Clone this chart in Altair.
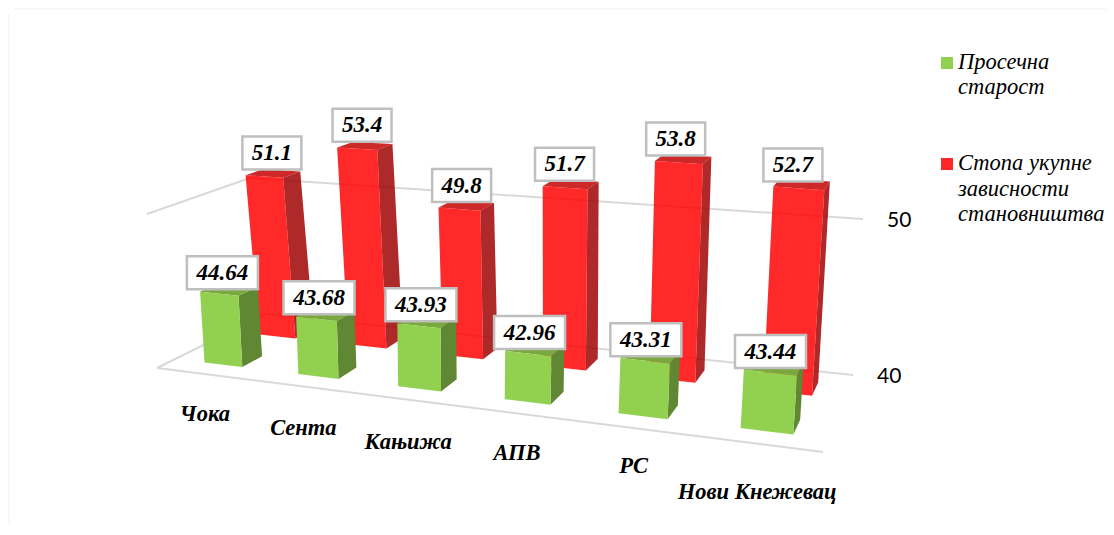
import altair as alt

# ---- chart values ----
categories = ["Чока", "Сента", "Кањижа", "АПВ", "РС", "Нови Кнежевац"]
avg_age = [44.64, 43.68, 43.93, 42.96, 43.31, 43.44]
dependency = [51.1, 53.4, 49.8, 51.7, 53.8, 52.7]
axis_ticks = [40, 50]
legend_green = ["Просечна", "старост"]
legend_red = ["Стопа укупне", "зависности", "становништва"]

W, H = 1098, 518
M = 8  # page margin

# ---- 3D projection of the reference's view (floor = 40, top plane = 50) ----
FLOOR = [(157, 368), (823, 452), (853, 375), (266, 314)]
TOP = [(147, 214), (835, 277), (863, 219), (250, 178)]
# small hand nudges for the category labels, which the reference places unevenly
CAT_NUDGE = [(5, 1), (7, 1), (9, 1), (8, -3), (7, -7), (4, 2)]


def homography(q):
    (x0, y0), (x1, y1), (x2, y2), (x3, y3) = q
    dx1, dx2, sx = x1 - x2, x3 - x2, x0 - x1 + x2 - x3
    dy1, dy2, sy = y1 - y2, y3 - y2, y0 - y1 + y2 - y3
    den = dx1 * dy2 - dx2 * dy1
    g = (sx * dy2 - dx2 * sy) / den
    h = (dx1 * sy - sx * dy1) / den
    a, b, c = x1 - x0 + g * x1, x3 - x0 + h * x3, x0
    d, e, f = y1 - y0 + g * y1, y3 - y0 + h * y3, y0

    def apply(u, v):
        w = g * u + h * v + 1
        return (a * u + b * v + c) / w, (d * u + e * v + f) / w

    return apply


HF = homography(FLOOR)
RISE = [(t[0] - f[0], t[1] - f[1]) for f, t in zip(FLOOR, TOP)]


def P(u, d, v):
    fx, fy = HF(u, d)
    t = (v - 40) / 10
    rx = (1 - d) * ((1 - u) * RISE[0][0] + u * RISE[1][0]) + d * ((1 - u) * RISE[3][0] + u * RISE[2][0])
    ry = (1 - d) * ((1 - u) * RISE[0][1] + u * RISE[1][1]) + d * ((1 - u) * RISE[3][1] + u * RISE[2][1])
    return fx + t * rx - M, fy + t * ry - M


def poly(points, fill, op):
    ring = [list(p) for p in points] + [list(points[0])]
    return {
        "type": "Feature",
        "properties": {"fill": fill, "op": op},
        "geometry": {"type": "Polygon", "coordinates": [ring]},
    }


N = len(categories)
BAR0, BAR1 = 0.295, 0.705
STYLES = {
    "green": dict(d0=0.150, d1=0.330, du=0.005, kx=(3.5, -3.5), half=35.5, dy=-21,
                  front="#92D050", side="#5F8734", top="#78A83E", op=1.0),
    "red": dict(d0=0.650, d1=0.840, du=0.006, kx=(9.0, -16.0), half=29.5, dy=-23.5,
                front="#FF0000", side="#9E0000", top="#C40000", op=0.84),
}


def bar_faces(i, v, s):
    u0, u1 = (i + BAR0) / N + s["du"], (i + BAR1) / N + s["du"]
    d0, d1 = s["d0"], s["d1"]
    return [
        poly([P(u1, d0, 40), P(u1, d1, 40), P(u1, d1, v), P(u1, d0, v)], s["side"], s["op"]),
        poly([P(u0, d0, v), P(u1, d0, v), P(u1, d1, v), P(u0, d1, v)], s["top"], s["op"]),
        poly([P(u0, d0, 40), P(u1, d0, 40), P(u1, d0, v), P(u0, d0, v)], s["front"], s["op"]),
    ]


features = []
for i, v in enumerate(dependency):
    features += bar_faces(i, v, STYLES["red"])
for i, v in enumerate(avg_age):
    features += bar_faces(i, v, STYLES["green"])

# label boxes sit above the front-top edge of each bar
boxes = []
for series, vals, fmt in (("red", dependency, "{:.1f}"), ("green", avg_age, "{:.2f}")):
    s = STYLES[series]
    for i, v in enumerate(vals):
        u = (i + 0.5) / N + s["du"]
        x, y = P(u, s["d0"], v)
        x += s["kx"][0] + s["kx"][1] * u
        y += s["dy"]
        half = s["half"]
        boxes.append({"x": x, "y": y, "x0": x - half, "x1": x + half,
                      "y0": y - 16.5, "y1": y + 16.5, "t": fmt.format(v)})

grid = []
for a, b in [
    (P(0, 0, 50), P(0, 1, 50)), (P(0, 1, 50), P(1, 1, 50)),
    (P(0, 0, 40), P(0, 1, 40)), (P(0, 1, 40), P(1, 1, 40)),
    (P(0, 0, 40), P(1, 0, 40)),
]:
    grid.append({"x": a[0], "y": a[1], "x2": b[0], "y2": b[1]})

frame = [
    {"x": 1, "y": 6, "x2": 1, "y2": H},
    {"x": 6, "y": 1, "x2": W, "y2": 1},
]

cat_labels = []
for i, c in enumerate(categories):
    u = (i + 0.5) / N
    x, y = P(u, 0, 40)
    nx, ny = CAT_NUDGE[i]
    cat_labels.append({"x": x - 3 + nx, "y": y + 39 + 8 * u + ny, "t": c})

tick_labels = []
for t in axis_ticks:
    x, y = P(1, 1, t)
    tick_labels.append({"x": x + 24, "y": y + 2, "t": str(t)})

legend_sq = [
    {"x": 941 - M, "x2": 953 - M, "y": 57 - M, "y2": 69 - M, "c": STYLES["green"]["front"]},
    {"x": 941 - M, "x2": 953 - M, "y": 158 - M, "y2": 170 - M, "c": "#FF2828"},
]
legend_txt = [{"x": 958 - M, "y": 69 - M + 25 * k, "t": t} for k, t in enumerate(legend_green)]
legend_txt += [{"x": 958 - M, "y": 170 - M + 25.5 * k, "t": t} for k, t in enumerate(legend_red)]

# ---- scales: one pixel-space pair shared by all layers ----
sx = alt.Scale(domain=[0, W], range=[0, W])
sy = alt.Scale(domain=[0, H], range=[0, H])
X = alt.X("x:Q", scale=sx, axis=None)
Y = alt.Y("y:Q", scale=sy, axis=None)


def vals(rows):
    return alt.Data(values=rows)


frame_l = alt.Chart(vals(frame)).mark_rule(color="#F8F8F8", strokeWidth=2).encode(
    x=X, y=Y, x2="x2:Q", y2="y2:Q")
grid_l = alt.Chart(vals(grid)).mark_rule(color="#D9D9D9", strokeWidth=2).encode(
    x=X, y=Y, x2="x2:Q", y2="y2:Q")
bars_l = alt.Chart(vals(features)).mark_geoshape(strokeWidth=0).encode(
    fill=alt.Fill("properties.fill:N", scale=None),
    fillOpacity=alt.FillOpacity("properties.op:Q", scale=None),
).project(type="identity", scale=1, translate=[0, 0])
box_l = alt.Chart(vals(boxes)).mark_rect(
    fill="white", stroke="#BFBFBF", strokeWidth=2.5
).encode(x=alt.X("x0:Q", scale=sx, axis=None), x2="x1:Q",
         y=alt.Y("y0:Q", scale=sy, axis=None), y2="y1:Q")
box_t = alt.Chart(vals(boxes)).mark_text(
    font="Liberation Serif", fontSize=23, fontWeight="bold", fontStyle="italic",
    color="black", align="center", baseline="middle"
).encode(x=X, y=Y, text="t:N")
cat_t = alt.Chart(vals(cat_labels)).mark_text(
    font="Liberation Serif", fontSize=22.5, fontWeight="bold", fontStyle="italic",
    color="black", align="center", baseline="middle"
).encode(x=X, y=Y, text="t:N")
tick_t = alt.Chart(vals(tick_labels)).mark_text(
    font="Lato", fontSize=21, color="black", align="left", baseline="middle"
).encode(x=X, y=Y, text="t:N")
leg_sq = alt.Chart(vals(legend_sq)).mark_rect().encode(
    x=X, x2="x2:Q", y=Y, y2="y2:Q", fill=alt.Fill("c:N", scale=None))
leg_t = alt.Chart(vals(legend_txt)).mark_text(
    font="Liberation Serif", fontSize=22.5, fontStyle="italic",
    color="black", align="left", baseline="alphabetic"
).encode(x=X, y=Y, text="t:N")

chart = alt.layer(
    frame_l, grid_l, bars_l, box_l, box_t, cat_t, tick_t, leg_sq, leg_t
).properties(
    width=W, height=H, padding=0, autosize=alt.AutoSizeParams(type="none"),
    background="white",
).configure_view(stroke=None)

chart.save("out.html", embed_options={"renderer": "svg", "actions": False})
